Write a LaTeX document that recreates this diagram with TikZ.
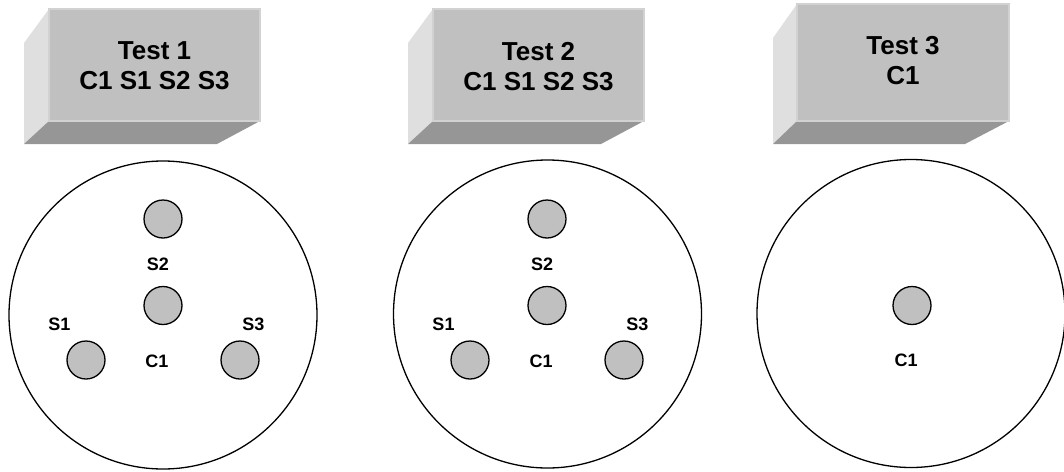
\documentclass[tikz,border=0pt]{standalone}
\usepackage{fontspec}
\setmainfont{Liberation Sans}
\definecolor{facegray}{HTML}{C0C0C0}
\definecolor{edgegray}{HTML}{D2D2D2}
\definecolor{sidegray}{HTML}{DFDFDF}
\definecolor{botgray}{HTML}{969696}
\definecolor{pingray}{HTML}{C0C0C0}
\tikzset{
  frontface/.style={fill=facegray, draw=edgegray, line width=1.2pt},
  sideface/.style={fill=sidegray},
  bottomface/.style={fill=botgray},
  boxtext/.style={font=\bfseries\fontsize{26}{30}\selectfont, align=center, inner sep=0pt},
  well/.style={circle, draw, line width=1.3pt, minimum size=308pt, inner sep=0pt},
  pin/.style={circle, draw, fill=pingray, line width=1.3pt, minimum size=38pt, inner sep=0pt},
  lbl/.style={font=\bfseries\fontsize{18}{21}\selectfont, inner sep=0pt}
}
\begin{document}
\begin{tikzpicture}[x=1pt,y=-1pt]
\useasboundingbox (0,0) rectangle (1064,471);
% Box 1
\fill[sideface] (49,9) -- (24,43) -- (24,144) -- (49,121) -- cycle;
\fill[bottomface] (49,121) -- (260,121) -- (217,144) -- (24,144) -- cycle;
\draw[frontface] (49,9) rectangle (260,121);
\node[boxtext] (t1) at (154.5,66.2) {Test 1\\C1 S1 S2 S3};
% Box 2
\fill[sideface] (433,9) -- (408,43) -- (408,144) -- (433,121) -- cycle;
\fill[bottomface] (433,121) -- (644,121) -- (601,144) -- (408,144) -- cycle;
\draw[frontface] (433,9) rectangle (644,121);
\node[boxtext] (t2) at (538.5,66.2) {Test 2\\C1 S1 S2 S3};
% Box 3
\fill[sideface] (797,4) -- (773,38) -- (773,144) -- (797,121) -- cycle;
\fill[bottomface] (797,121) -- (1009,121) -- (965,144) -- (773,144) -- cycle;
\draw[frontface] (797,4) rectangle (1009,121);
\node[boxtext] (t3) at (903,61) {Test 3\\C1};
% Wells
\node[well] (w1) at (163,315) {};
\node[well] (w2) at (547.5,314) {};
\node[well] (w3) at (911,313.5) {};
% Well 1
\node[pin] (w1s2) at (163,219) {};
\node[pin] (w1c1) at (163,305.5) {};
\node[pin] (w1s1) at (86,360) {};
\node[pin] (w1s3) at (240,360) {};
\node[lbl] (l1s2) at (158,264.5) {S2};
\node[lbl] (l1c1) at (157,361) {C1};
\node[lbl] (l1s1) at (59.5,324) {S1};
\node[lbl] (l1s3) at (253.3,324) {S3};
% Well 2
\node[pin] (w2s2) at (547,219) {};
\node[pin] (w2c1) at (547,305.5) {};
\node[pin] (w2s1) at (470,360) {};
\node[pin] (w2s3) at (624,360) {};
\node[lbl] (l2s2) at (542,264.5) {S2};
\node[lbl] (l2c1) at (541,361) {C1};
\node[lbl] (l2s1) at (443.5,324) {S1};
\node[lbl] (l2s3) at (637.3,324) {S3};
% Well 3
\node[pin] (w3c1) at (912,305.5) {};
\node[lbl] (l3c1) at (906,360.5) {C1};
\end{tikzpicture}
\end{document}
